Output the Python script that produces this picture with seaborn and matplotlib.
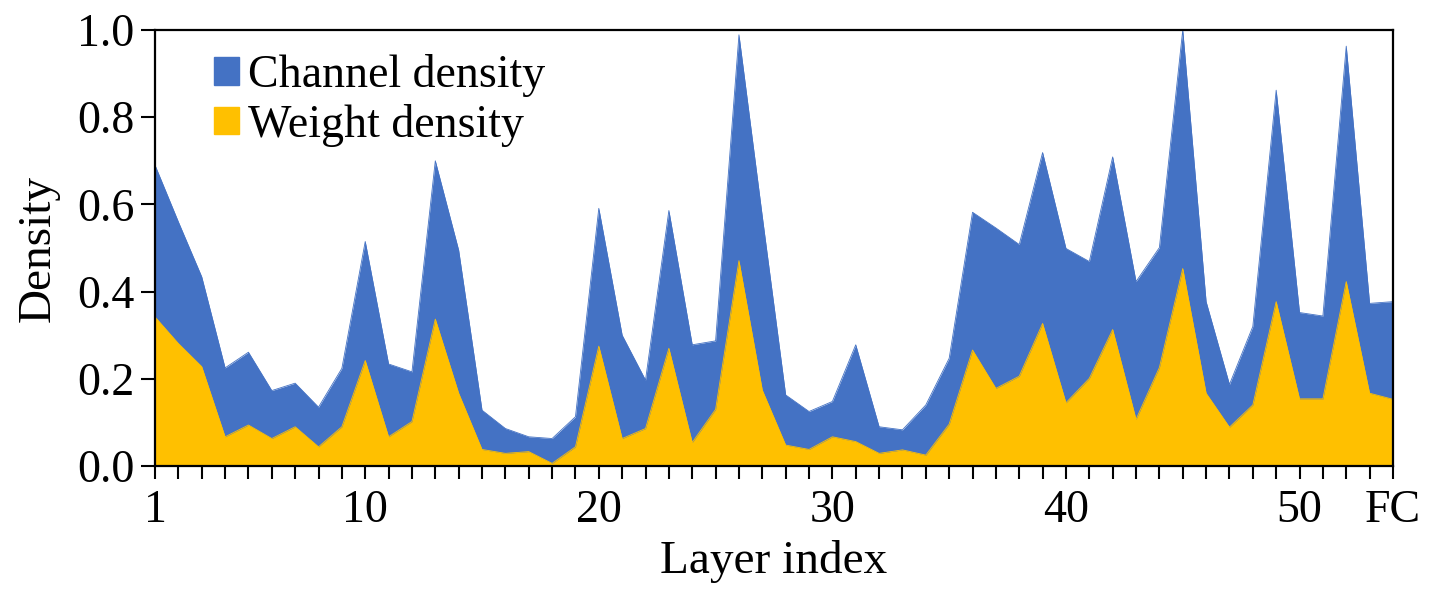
import numpy as np
import pandas as pd
import seaborn as sns
from matplotlib import pyplot as plt
from matplotlib.patches import Patch

# layer 54 is the FC layer
layers = list(range(1, 55))
tick_layers = [1, 10, 20, 30, 40, 50, 54]
tick_labels = ['1', '10', '20', '30', '40', '50', 'FC']

channel_density = [0.69, 0.56, 0.434, 0.225, 0.261, 0.173, 0.190, 0.135, 0.224, 0.515,
                   0.234, 0.216, 0.700, 0.495, 0.128, 0.086, 0.067, 0.063, 0.113, 0.591,
                   0.300, 0.197, 0.586, 0.278, 0.287, 0.989, 0.572, 0.163, 0.125, 0.148,
                   0.278, 0.090, 0.083, 0.140, 0.247, 0.582, 0.546, 0.508, 0.719, 0.499,
                   0.469, 0.709, 0.423, 0.501, 1.0, 0.377, 0.187, 0.320, 0.862, 0.352,
                   0.344, 0.963, 0.373, 0.377]
weight_density = [0.342, 0.281, 0.228, 0.067, 0.094, 0.063, 0.090, 0.044, 0.090, 0.242,
                  0.067, 0.102, 0.337, 0.167, 0.038, 0.029, 0.033, 0.006, 0.044, 0.275,
                  0.063, 0.086, 0.270, 0.054, 0.130, 0.471, 0.174, 0.048, 0.038, 0.067,
                  0.056, 0.029, 0.037, 0.025, 0.096, 0.266, 0.178, 0.206, 0.327, 0.145,
                  0.201, 0.313, 0.107, 0.226, 0.453, 0.167, 0.089, 0.140, 0.377, 0.154,
                  0.154, 0.423, 0.167, 0.153]

blue = '#4472C4'
yellow = '#FFC000'

sns.set_style('ticks')
plt.rcParams['font.family'] = ['Liberation Serif', 'DejaVu Serif']
plt.rcParams['text.color'] = 'black'
plt.rcParams['axes.labelcolor'] = 'black'
plt.rcParams['xtick.color'] = 'black'
plt.rcParams['ytick.color'] = 'black'

df = pd.DataFrame({'Layer': layers, 'Channel': channel_density, 'Weight': weight_density})

fig = plt.figure(figsize=(14.3, 6.03), dpi=100)
ax = fig.add_axes([0.1084, 0.2272, 0.8657, 0.7230])

# areas: channel behind, weight in front
ax.fill_between(df['Layer'], 0, df['Channel'], color=blue, lw=0)
sns.lineplot(data=df, x='Layer', y='Channel', color=blue, lw=0.6, ax=ax)
ax.fill_between(df['Layer'], 0, df['Weight'], color=yellow, lw=0)
sns.lineplot(data=df, x='Layer', y='Weight', color=yellow, lw=0.6, ax=ax)

ax.set_xlim(1, 54)
ax.set_ylim(0, 1)
ax.set_xticks(tick_layers)
ax.set_xticklabels(tick_labels)
ax.set_xticks(layers, minor=True)
ax.set_yticks(np.arange(0, 1.01, 0.2))
ax.set_yticklabels([f'{v:.1f}' for v in np.arange(0, 1.01, 0.2)])

ax.tick_params(axis='x', which='both', direction='out', length=9, width=1.5,
               labelsize=33, pad=8)
ax.tick_params(axis='y', direction='out', length=10, width=1.5, labelsize=33,
               pad=5)
for s in ax.spines.values():
    s.set_linewidth(1.6)
    s.set_color('black')

ax.set_xlabel('Layer index', fontsize=34, labelpad=6)
ax.set_ylabel('Density', fontsize=34, labelpad=12)

handles = [Patch(color=blue, label='Channel density'),
           Patch(color=yellow, label='Weight density')]
ax.legend(handles=handles, loc='upper left', bbox_to_anchor=(0.0477, 0.944),
          frameon=False, fontsize=33, handlelength=0.55, handleheight=0.55,
          handletextpad=0.2, labelspacing=0.14, borderaxespad=0, borderpad=0)

plt.savefig('out.png', dpi=100)
